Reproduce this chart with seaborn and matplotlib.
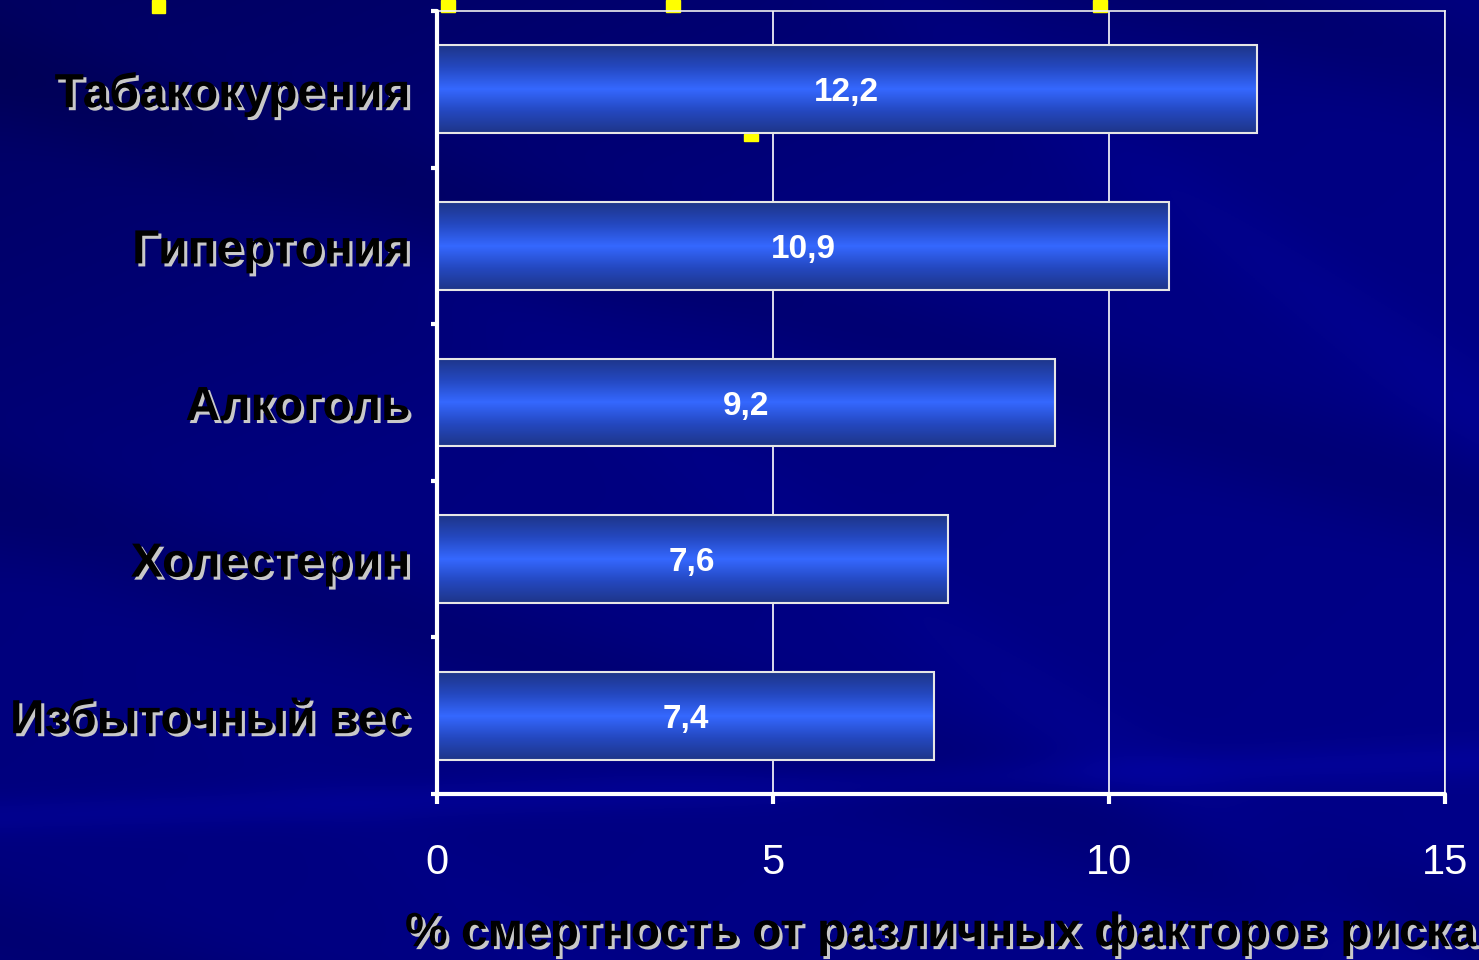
import numpy as np
import pandas as pd
import matplotlib
matplotlib.use("Agg")
import matplotlib.pyplot as plt
import seaborn as sns
import matplotlib.patheffects as pe
from matplotlib.colors import LinearSegmentedColormap
from matplotlib.patches import Rectangle
from matplotlib.ticker import FixedLocator

# ---------------- data ----------------
categories = ["Табакокурения", "Гипертония", "Алкоголь", "Холестерин", "Избыточный вес"]
values = [12.2, 10.9, 9.2, 7.6, 7.4]
value_labels = ["12,2", "10,9", "9,2", "7,6", "7,4"]
x_ticks = [0, 5, 10, 15]
x_label = "% смертность от различных факторов риска"

df = pd.DataFrame({"factor": categories, "value": values})

sns.set_theme(style="white")
plt.rcParams["font.family"] = ["Liberation Sans", "DejaVu Sans"]

W_PX, H_PX = 1479, 960
fig = plt.figure(figsize=(W_PX / 100, H_PX / 100), dpi=100)

# ---------------- background (slide decoration) ----------------
bg = fig.add_axes([0, 0, 1, 1], zorder=-10)
H, W = 480, 740
yy, xx = np.mgrid[0:H, 0:W]
u = xx / W
v = yy / H
b = 0.47 + 0.04 * u + 0.03 * v
# darker top-left region
b -= 0.09 * np.clip(1.0 - (v * 1.6 + u * 0.9), 0, 1)
# diagonal darker / lighter bands
d1 = v - 0.45 * u
b -= 0.05 * np.clip(np.sin(d1 * 14.0 + 0.5), 0, 1) ** 3
d2 = v - 1.1 * u
b += 0.04 * np.clip(np.sin(d2 * 10.0 + 2.0), 0, 1) ** 6 * u
# light band near the bottom
b += 0.06 * np.exp(-((v - 0.85 + 0.06 * u) / 0.02) ** 2)
b = np.clip(b, 0, 1)
img = np.zeros((H, W, 3))
img[..., 0] = 0.02 * np.clip(b - 0.5, 0, 1) * 5
img[..., 1] = 0.02 * np.clip(b - 0.5, 0, 1) * 5
img[..., 2] = b
bg.imshow(img, aspect="auto", extent=[0, 1, 0, 1], origin="upper")
bg.set_axis_off()

# small yellow marks of the slide
for (px, py, pw, ph) in [(152, 0, 13, 13), (441, 0, 14, 12), (666, 0, 14, 12),
                         (1093, 0, 14, 12), (744, 134, 14, 7)]:
    fig.patches.append(Rectangle((px / W_PX, 1 - (py + ph) / H_PX), pw / W_PX, ph / H_PX,
                                 transform=fig.transFigure, color="#ffff00", zorder=-5))

# ---------------- chart ----------------
left, right = 437 / W_PX, 1445 / W_PX
top, bottom = 1 - 11 / H_PX, 1 - 794 / H_PX
ax = fig.add_axes([left, bottom, right - left, top - bottom])
ax.set_facecolor("none")

sns.barplot(data=df, x="value", y="factor", orient="h", width=0.56, ax=ax,
            color="#3366ff", edgecolor="#e6e6e6", linewidth=1.5, zorder=4)

cmap = LinearSegmentedColormap.from_list(
    "bar", ["#1e3588", "#2448c0", "#3568ff", "#2448c0", "#1e3588"])
grad = np.linspace(0, 1, 256).reshape(-1, 1)
for patch in list(ax.patches):
    x0, y0 = patch.get_x(), patch.get_y()
    w, h = patch.get_width(), patch.get_height()
    im = ax.imshow(grad, extent=[x0, x0 + w, y0 + h, y0], aspect="auto",
                   cmap=cmap, zorder=3.5, interpolation="bilinear")
    im.set_clip_path(patch)
    patch.set_facecolor("none")

ax.set_xlim(0, 15)
ax.set_ylim(len(categories) - 0.5, -0.5)
ax.set_aspect("auto")

texts = ax.bar_label(ax.containers[0], labels=value_labels, label_type="center",
                     color="white", fontsize=24, fontweight="bold", zorder=6)
for t in texts:
    t.set_va("center_baseline")

# grid & frame
ax.set_axisbelow(True)
ax.xaxis.grid(True, color="white", linewidth=1.2, zorder=1)
ax.yaxis.grid(False)
for side in ["top", "right"]:
    ax.spines[side].set_visible(True)
    ax.spines[side].set_color("#f0f0f0")
    ax.spines[side].set_linewidth(1.2)
for side in ["left", "bottom"]:
    ax.spines[side].set_visible(True)
    ax.spines[side].set_color("white")
    ax.spines[side].set_linewidth(3.0)
    ax.spines[side].set_capstyle("round")
    ax.spines[side].set_zorder(7)

ax.set_xticks(x_ticks)
ax.set_xticklabels([str(t) for t in x_ticks])
ax.tick_params(axis="x", which="major", direction="out", length=7.5, width=3,
               color="white", labelcolor="white", labelsize=30, pad=28, bottom=True)

ax.yaxis.set_minor_locator(FixedLocator(np.arange(-0.5, len(categories), 1.0)))
ax.tick_params(axis="y", which="major", length=0, pad=19, labelsize=34.5, labelcolor="black", left=True)
ax.tick_params(axis="y", which="minor", direction="out", length=4.5, width=3, color="white", left=True)

shadow = [pe.SimplePatchShadow(offset=(2.2, -2.2), shadow_rgbFace="#c8c8c8", alpha=1.0), pe.Normal()]
for lbl in ax.get_yticklabels():
    lbl.set_fontweight("bold")
    lbl.set_path_effects(shadow)

ax.set_ylabel("")
ax.set_xlabel(x_label, fontsize=34.5, fontweight="bold", color="black", labelpad=20)
ax.xaxis.label.set_path_effects(shadow)

fig.savefig("out.png", dpi=100)
